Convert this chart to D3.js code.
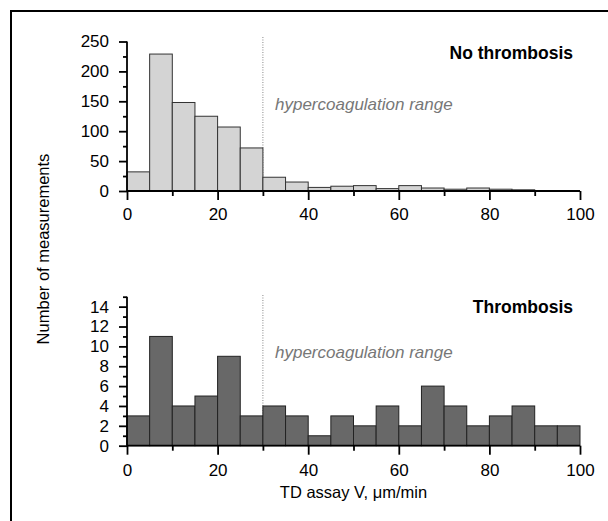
<!DOCTYPE html>
<html><head><meta charset="utf-8">
<script src="https://cdn.jsdelivr.net/npm/d3@7"></script>
<style>
html,body{margin:0;padding:0;background:#fff;}
svg{display:block;font-family:"Liberation Sans",Arial,sans-serif;}
</style></head>
<body>
<svg id="c" width="608" height="521"></svg>
<script>
const binStarts = [0,5,10,15,20,25,30,35,40,45,50,55,60,65,70,75,80,85,90,95];
const binWidth = 5;
const noThrombosis = [32,229,148,125,107,72,23,15,6,8,9,4,9,5,3,5,3,2,0,0];
const thrombosis = [3,11,4,5,9,3,4,3,1,3,2,4,2,6,4,2,3,4,2,2];
const xTicks = [0,20,40,60,80,100];
const xMinorTicks = [10,30,50,70,90];
const topYTicks = [0,50,100,150,200,250];
const topYMinor = [25,75,125,175,225];
const botYTicks = [0,2,4,6,8,10,12,14];
const botYMinor = [1,3,5,7,9,11,13,15];
const thresholdV = 30;
const rangeLabel = "hypercoagulation range";
const panelTitles = ["No thrombosis","Thrombosis"];
const xTitle = "TD assay V, \u03bcm/min";
const yTitle = "Number of measurements";

const svg = d3.select("#c");
const x = d3.scaleLinear().domain([0,100]).range([127,580]);

// outer frame (only top and left visible)
svg.append("rect").attr("x",11).attr("y",11).attr("width",700).attr("height",700)
  .attr("fill","none").attr("stroke","#000").attr("stroke-width",2);

function panel(cfg){
  const y = d3.scaleLinear().domain(cfg.ydom).range(cfg.yrange);
  const g = svg.append("g");
  g.append("line").attr("x1",x(thresholdV)).attr("x2",x(thresholdV))
    .attr("y1",cfg.dotTop).attr("y2",y(0))
    .attr("stroke","#888").attr("stroke-width",1).attr("stroke-dasharray","1,1.5");
  g.selectAll("rect.bar").data(cfg.values).join("rect").attr("class","bar")
    .attr("x",(d,i)=>x(binStarts[i]))
    .attr("width",(d,i)=>x(binStarts[i]+binWidth)-x(binStarts[i]))
    .attr("y",d=>y(d)).attr("height",d=>y(0)-y(d))
    .attr("fill",cfg.fill).attr("stroke",cfg.stroke).attr("stroke-width",1);
  const xa = g.append("g").attr("transform",`translate(0,${y(0)})`);
  xa.call(d3.axisBottom(x).tickValues(xTicks).tickSize(9).tickPadding(cfg.xpad).tickFormat(d3.format("d")));
  const xm = g.append("g").attr("transform",`translate(0,${y(0)})`);
  xm.call(d3.axisBottom(x).tickValues(xMinorTicks).tickSize(5).tickFormat(""));
  const ya = g.append("g").attr("transform",`translate(${x(0)},0)`);
  ya.call(d3.axisLeft(y).tickValues(cfg.yticks).tickSize(8).tickPadding(10).tickFormat(d3.format("d")));
  const ym = g.append("g").attr("transform",`translate(${x(0)},0)`);
  ym.call(d3.axisLeft(y).tickValues(cfg.yminor).tickSize(4).tickFormat(""));
  g.selectAll(".domain").attr("stroke","#000").attr("stroke-width",1.8);
  g.selectAll(".tick line").attr("stroke","#000").attr("stroke-width",1.8);
  g.selectAll(".tick text").attr("font-size",17).attr("fill","#000")
    .attr("font-family","'Liberation Sans',Arial,sans-serif");
  xm.select(".domain").remove(); ym.select(".domain").remove();
  xa.select(".domain").attr("d",`M${x(0)},0H${x(100)}`);
  ya.select(".domain").attr("d",`M0,${y(cfg.ydom[1])}V${y(0)}`);
  g.append("text").attr("x",275).attr("y",cfg.rangeY).text(rangeLabel)
    .attr("font-size",17).attr("font-style","italic").attr("fill","#777");
  g.append("text").attr("x",573).attr("y",cfg.titleY).attr("text-anchor","end")
    .text(cfg.title).attr("font-size",17.5).attr("font-weight","bold").attr("fill","#000");
}

panel({values:noThrombosis, ydom:[0,250], yrange:[191,41.5], yticks:topYTicks, yminor:topYMinor,
  fill:"#d4d4d4", stroke:"#333", dotTop:37, rangeY:110, titleY:59, title:panelTitles[0], xpad:8});
panel({values:thrombosis, ydom:[0,15], yrange:[445.7,296.7], yticks:botYTicks, yminor:botYMinor,
  fill:"#686868", stroke:"#222", dotTop:295, rangeY:357.5, titleY:312.5, title:panelTitles[1], xpad:9});

svg.append("text").attr("x",x(50)).attr("y",498).attr("text-anchor","middle")
  .attr("font-size",16.5).text(xTitle);
svg.append("text").attr("transform","translate(49,249) rotate(-90)").attr("text-anchor","middle")
  .attr("font-size",16.5).text(yTitle);
</script>
</body></html>
